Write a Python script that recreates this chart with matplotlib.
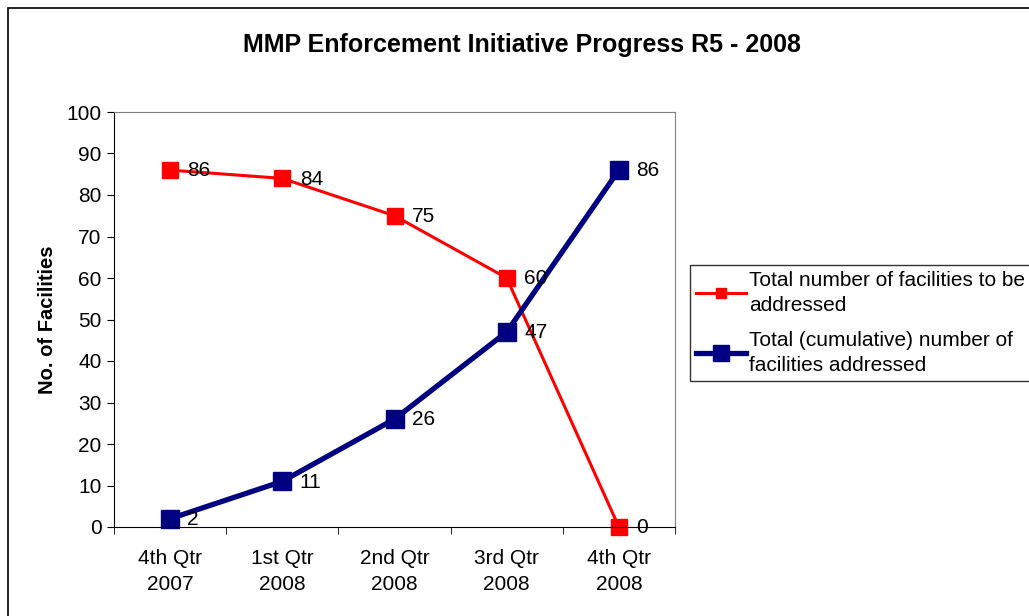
import matplotlib
matplotlib.use("Agg")
import matplotlib.pyplot as plt
from matplotlib.patches import Rectangle

plt.rcParams['font.family'] = ['Liberation Sans', 'DejaVu Sans']

categories = ["4th Qtr\n2007", "1st Qtr\n2008", "2nd Qtr\n2008", "3rd Qtr\n2008", "4th Qtr\n2008"]
to_be_addressed = [86, 84, 75, 60, 0]
addressed = [2, 11, 26, 47, 86]
series_names = ["Total number of facilities to be\naddressed",
                "Total (cumulative) number of\nfacilities addressed"]
title = "MMP Enforcement Initiative Progress R5 - 2008"
ylabel = "No. of Facilities"

W, H = 1029, 616
fig = plt.figure(figsize=(W/100, H/100), dpi=100)
fig.patches.append(Rectangle((8/W, -0.1), 1.2, 1 - 8/H + 0.1, transform=fig.transFigure,
                             fill=False, edgecolor='black', linewidth=1.2))

ax = fig.add_axes([114/W, 1 - 527/H, (675-114)/W, (527-112)/H])
x = list(range(len(categories)))

l1, = ax.plot(x, to_be_addressed, color='#FF0000', linewidth=2.2, marker='s',
              markersize=11.5, markeredgecolor='#FF0000', markerfacecolor='#FF0000',
              clip_on=False)
l2, = ax.plot(x, addressed, color='#000080', linewidth=3.8, marker='s',
              markersize=12.5, markeredgecolor='#000080', markerfacecolor='#000080',
              clip_on=False)

for xi, v in zip(x, to_be_addressed):
    ax.annotate(str(v), (xi, v), xytext=(12.5, -0.5), textcoords='offset points',
                ha='left', va='center', fontsize=15)
for xi, v in zip(x, addressed):
    ax.annotate(str(v), (xi, v), xytext=(12.5, -0.5), textcoords='offset points',
                ha='left', va='center', fontsize=15)

ax.set_xlim(-0.5, 4.5)
ax.set_ylim(0, 100)
ax.set_yticks(range(0, 101, 10))
ax.tick_params(axis='y', labelsize=15, length=5, direction='out', pad=4)
ax.set_xticks(x)
ax.set_xticklabels(categories, fontsize=15, linespacing=1.45)
ax.tick_params(axis='x', length=0, pad=16)
ax.set_xticks([i - 0.5 for i in range(len(categories) + 1)], minor=True)
ax.tick_params(axis='x', which='minor', length=5, direction='out')

for s in ['left', 'bottom']:
    ax.spines[s].set_color('black')
for s in ['top', 'right']:
    ax.spines[s].set_color('#808080')

ax.set_ylabel(ylabel, fontsize=14.5, fontweight='bold', labelpad=7)
fig.text(522/W, 1 - 45/H, title, fontsize=18, fontweight='bold', ha='center', va='center')

leg = fig.legend([l1, l2], series_names, loc='upper left',
                 bbox_to_anchor=(690/W, 1 - 265/H), fontsize=15,
                 frameon=True, fancybox=False, edgecolor='black',
                 handlelength=2.4, handletextpad=0.15, borderpad=0.3,
                 labelspacing=0.75, borderaxespad=0)
leg.get_frame().set_linewidth(1)
for t in leg.get_texts():
    t.set_linespacing(1.4)
for h, ms in zip(leg.legend_handles, [7.5, 11]):
    h.set_markersize(ms)

fig.savefig("out.png", dpi=100)
